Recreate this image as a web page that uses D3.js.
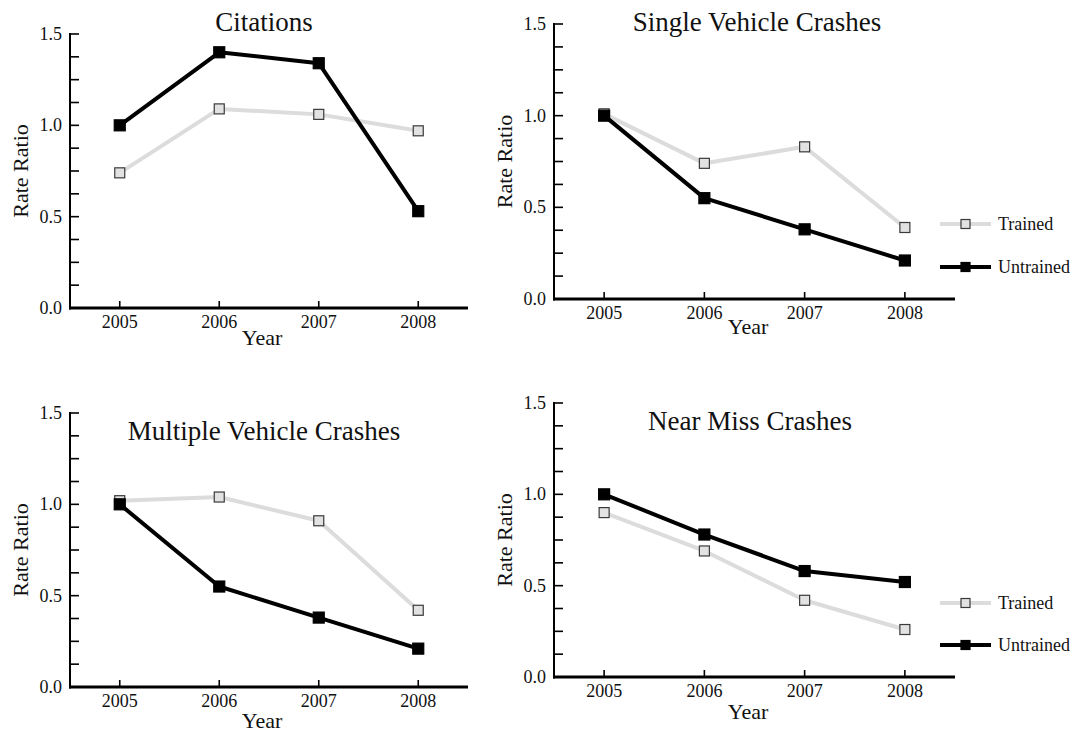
<!DOCTYPE html>
<html>
<head>
<meta charset="utf-8">
<script src="https://cdn.jsdelivr.net/npm/d3@7"></script>
<style>
  html, body { margin: 0; padding: 0; background: #ffffff; }
  svg { display: block; }
  text { font-family: "Liberation Serif", "Times New Roman", serif; fill: #111; }
</style>
</head>
<body>
<svg id="chart" width="1077" height="732"></svg>
<script>
// ---- data ----
const years = [2005, 2006, 2007, 2008];
const panelTitles = ["Citations", "Single Vehicle Crashes", "Multiple Vehicle Crashes", "Near Miss Crashes"];
const trainedCitations = [0.74, 1.09, 1.06, 0.97];
const untrainedCitations = [1.00, 1.40, 1.34, 0.53];
const trainedSingle = [1.01, 0.74, 0.83, 0.39];
const untrainedSingle = [1.00, 0.55, 0.38, 0.21];
const trainedMultiple = [1.02, 1.04, 0.91, 0.42];
const untrainedMultiple = [1.00, 0.55, 0.38, 0.21];
const trainedNearMiss = [0.90, 0.69, 0.42, 0.26];
const untrainedNearMiss = [1.00, 0.78, 0.58, 0.52];
const yTickValues = [0.0, 0.5, 1.0, 1.5];
const seriesNames = ["Trained", "Untrained"];
const xLabel = "Year";
const yLabel = "Rate Ratio";

// ---- layout (positions only) ----
const layouts = [
  {left: 70, right: 468, top: 34, bottom: 308, titleX: 264, titleY: 31, yearX: 262, yearY: 345, rrX: 28, legend: null},
  {left: 554, right: 955, top: 24, bottom: 299, titleX: 757, titleY: 31, yearX: 748, yearY: 334, rrX: 512, legend: {x: 940, y1: 224, y2: 267}},
  {left: 70, right: 468, top: 413, bottom: 687, titleX: 264, titleY: 440, yearX: 262, yearY: 728, rrX: 28, legend: null},
  {left: 554, right: 955, top: 403, bottom: 677, titleX: 750, titleY: 430, yearX: 748, yearY: 719, rrX: 512, legend: {x: 940, y1: 603, y2: 645}}
];

const panels = [
  {title: panelTitles[0], trained: trainedCitations, untrained: untrainedCitations},
  {title: panelTitles[1], trained: trainedSingle, untrained: untrainedSingle},
  {title: panelTitles[2], trained: trainedMultiple, untrained: untrainedMultiple},
  {title: panelTitles[3], trained: trainedNearMiss, untrained: untrainedNearMiss}
];

const svg = d3.select("#chart");
svg.append("rect").attr("width", 1077).attr("height", 732).attr("fill", "#ffffff");

const trainedStyle = {line: "#dcdcdc", width: 4, fill: "#e2e2e2", stroke: "#3a3a3a", size: 10};
const untrainedStyle = {line: "#000000", width: 4, fill: "#000000", stroke: "#000000", size: 11};

panels.forEach((p, i) => {
  const L = layouts[i];
  const g = svg.append("g");
  const x = d3.scaleLinear().domain([2004.5, 2008.5]).range([L.left, L.right]);
  const y = d3.scaleLinear().domain([0, 1.5]).range([L.bottom, L.top]);

  // minor y ticks (inward)
  const minor = d3.range(0, 1.5001, 0.125);
  g.selectAll(".ytick").data(minor).join("line")
    .attr("x1", L.left).attr("x2", L.left + 9)
    .attr("y1", d => y(d)).attr("y2", d => y(d))
    .attr("stroke", "#000").attr("stroke-width", 1.6);
  // y labels
  g.selectAll(".ylab").data(yTickValues).join("text")
    .attr("x", L.left - 8).attr("y", d => y(d))
    .attr("dy", "0.34em")
    .attr("text-anchor", "end")
    .attr("font-size", 18)
    .text(d => d3.format(".1f")(d));

  // x ticks (inward)
  g.selectAll(".xtick").data(years).join("line")
    .attr("x1", d => x(d)).attr("x2", d => x(d))
    .attr("y1", L.bottom).attr("y2", L.bottom - 7)
    .attr("stroke", "#000").attr("stroke-width", 1.6);
  g.selectAll(".xlab").data(years).join("text")
    .attr("x", d => x(d)).attr("y", L.bottom + 20)
    .attr("text-anchor", "middle")
    .attr("font-size", 18)
    .text(d => d);

  // axes lines
  g.append("line").attr("x1", L.left).attr("x2", L.left)
    .attr("y1", L.top - 1).attr("y2", L.bottom + 1.5)
    .attr("stroke", "#000").attr("stroke-width", 2);
  g.append("line").attr("x1", L.left - 1).attr("x2", L.right)
    .attr("y1", L.bottom).attr("y2", L.bottom)
    .attr("stroke", "#000").attr("stroke-width", 3);

  // axis titles
  g.append("text").attr("x", L.yearX).attr("y", L.yearY)
    .attr("text-anchor", "middle").attr("font-size", 22).text(xLabel);
  g.append("text")
    .attr("transform", `translate(${L.rrX},${(L.top + L.bottom) / 2}) rotate(-90)`)
    .attr("text-anchor", "middle").attr("font-size", 22).text(yLabel);

  // panel title
  g.append("text").attr("x", L.titleX).attr("y", L.titleY)
    .attr("text-anchor", "middle").attr("font-size", 27).text(p.title);

  const line = d3.line().x((d, k) => x(years[k])).y(d => y(d));
  [[p.trained, trainedStyle], [p.untrained, untrainedStyle]].forEach(([vals, st]) => {
    g.append("path").datum(vals).attr("d", line)
      .attr("fill", "none").attr("stroke", st.line).attr("stroke-width", st.width)
      .attr("stroke-linejoin", "round");
    g.selectAll(null).data(vals).join("rect")
      .attr("x", (d, k) => x(years[k]) - st.size / 2)
      .attr("y", d => y(d) - st.size / 2)
      .attr("width", st.size).attr("height", st.size)
      .attr("fill", st.fill).attr("stroke", st.stroke).attr("stroke-width", 1.2);
  });

  if (L.legend) {
    const lg = L.legend;
    [[lg.y1, trainedStyle, seriesNames[0]], [lg.y2, untrainedStyle, seriesNames[1]]].forEach(([ly, st, name]) => {
      g.append("line").attr("x1", lg.x).attr("x2", lg.x + 51)
        .attr("y1", ly).attr("y2", ly)
        .attr("stroke", st.line).attr("stroke-width", st.width);
      g.append("rect").attr("x", lg.x + 25.5 - 4.5).attr("y", ly - 4.5)
        .attr("width", 9).attr("height", 9)
        .attr("fill", st.fill).attr("stroke", st.stroke).attr("stroke-width", 1.2);
      g.append("text").attr("x", lg.x + 58).attr("y", ly).attr("dy", "0.34em")
        .attr("font-size", 18).text(name);
    });
  }
});
</script>
</body>
</html>
